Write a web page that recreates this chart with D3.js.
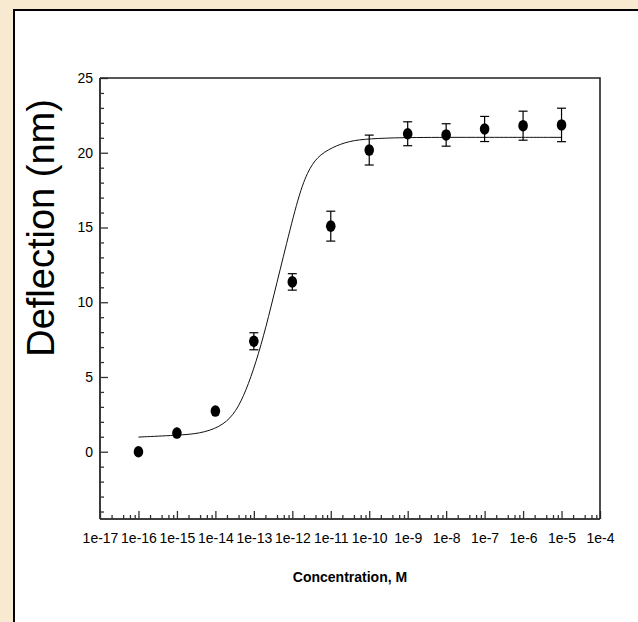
<!DOCTYPE html>
<html>
<head>
<meta charset="utf-8">
<script src="https://cdn.jsdelivr.net/npm/d3@7"></script>
<style>
  body { margin: 0; background: #f8ead1; }
  svg { display: block; }
</style>
</head>
<body>
<svg id="chart" width="638" height="622"></svg>
<script>
// measured points (concentration in M, deflection in nm, +/- error)
var concentrations = [1e-16, 1e-15, 1e-14, 1e-13, 1e-12, 1e-11, 1e-10, 1e-9, 1e-8, 1e-7, 1e-6, 1e-5];
var deflection = [0.0, 1.25, 2.72, 7.39, 11.36, 15.09, 20.18, 21.27, 21.19, 21.59, 21.81, 21.86];
var deflectionErr = [0, 0.35, 0.3, 0.57, 0.55, 1.0, 1.0, 0.8, 0.75, 0.84, 0.97, 1.12];

// fitted curve (log10 of concentration, deflection)
var fitLogConc = [-16, -15, -14.4, -13.88, -13.53, -13.27, -13.01, -12.75, -12.49, -12.15, -11.8, -11.54, -11.28, -10.85, -10.41, -9.81, -8.94, -7, -5];
var fitDeflection = [0.98, 1.1, 1.21, 1.65, 2.43, 3.66, 5.45, 7.68, 10.36, 13.93, 17.5, 19.06, 19.9, 20.5, 20.85, 20.96, 21.03, 21.03, 21.03];

var xMajor = d3.range(-17, -3).map(function(e) { return Math.pow(10, e); });
var yMajor = [0, 5, 10, 15, 20, 25];

(function() {
    'use strict';
    var svg = d3.select('#chart'),
        left = 100, right = 600, top = 78, bottom = 519;

    // white panel with black frame
    svg.append('rect')
        .attr('x', 14).attr('y', 10)
        .attr('width', 700).attr('height', 700)
        .attr('fill', '#fff').attr('stroke', '#000').attr('stroke-width', 2);

    var x = d3.scaleLog().domain([1e-17, 1e-4]).range([left, right]),
        y = d3.scaleLinear().domain([-4.5, 25]).range([bottom, top]);

    // minor ticks at 2,4,6,8 of each decade
    var xMinor = [];
    xMajor.slice(0, -1).forEach(function(d) {
        [2, 4, 6, 8].forEach(function(m) { xMinor.push(d * m); });
    });
    var yMinor = d3.range(-4, 25).filter(function(d) { return d % 5 !== 0; });

    var font = 'Liberation Sans, Arial, sans-serif';

    // x axis
    var xAxis = svg.append('g').attr('transform', 'translate(0,' + bottom + ')');
    xAxis.call(d3.axisBottom(x).tickValues(xMinor).tickSize(-4).tickFormat(''));
    xAxis.append('g').call(d3.axisBottom(x).tickValues(xMajor).tickSize(-8)
        .tickFormat(function(d) { return '1e' + Math.round(Math.log10(d)); }));
    xAxis.selectAll('.domain').attr('d', 'M' + left + ',0H' + right);
    xAxis.selectAll('text').attr('y', 24).attr('dy', 0)
        .attr('font-family', font).attr('font-size', 14).attr('fill', '#000');

    // y axis
    var yAxis = svg.append('g').attr('transform', 'translate(' + left + ',0)');
    yAxis.call(d3.axisLeft(y).tickValues(yMinor).tickSize(-4).tickFormat(''));
    yAxis.append('g').call(d3.axisLeft(y).tickValues(yMajor).tickSize(-8));
    yAxis.selectAll('.domain').attr('d', 'M0,' + bottom + 'V' + top);
    yAxis.selectAll('text').attr('x', -7)
        .attr('font-family', font).attr('font-size', 14).attr('fill', '#000');

    svg.selectAll('.domain, .tick line').attr('stroke', '#333').attr('stroke-width', 1.3);
    svg.selectAll('.domain').attr('stroke-width', 1.6);

    // top and right frame of the plot
    svg.append('path')
        .attr('d', 'M' + left + ',' + top + 'H' + right + 'V' + bottom)
        .attr('fill', 'none').attr('stroke', '#222').attr('stroke-width', 1.6);

    // fitted curve
    var line = d3.line()
        .x(function(d) { return x(Math.pow(10, d[0])); })
        .y(function(d) { return y(d[1]); })
        .curve(d3.curveBasis);
    svg.append('path')
        .datum(fitLogConc.map(function(d, i) { return [d, fitDeflection[i]]; }))
        .attr('d', line)
        .attr('fill', 'none').attr('stroke', '#111').attr('stroke-width', 1);

    var pts = concentrations.map(function(c, i) {
        return {c: c, v: deflection[i], e: deflectionErr[i]};
    });

    // error bars
    var bars = svg.append('g').selectAll('g').data(pts).enter().append('g')
        .attr('stroke', '#000').attr('stroke-width', 1.2);
    bars.append('line')
        .attr('x1', function(d) { return x(d.c); }).attr('x2', function(d) { return x(d.c); })
        .attr('y1', function(d) { return y(d.v - d.e); }).attr('y2', function(d) { return y(d.v + d.e); });
    [-1, 1].forEach(function(s) {
        bars.append('line')
            .attr('x1', function(d) { return x(d.c) - 4.5; }).attr('x2', function(d) { return x(d.c) + 4.5; })
            .attr('y1', function(d) { return y(d.v + s * d.e); }).attr('y2', function(d) { return y(d.v + s * d.e); })
            .style('display', function(d) { return d.e > 0.4 ? null : 'none'; });
    });

    // markers
    svg.append('g').selectAll('ellipse').data(pts).enter().append('ellipse')
        .attr('cx', function(d) { return x(d.c); })
        .attr('cy', function(d) { return y(d.v); })
        .attr('rx', 4.8).attr('ry', 5.8)
        .attr('fill', '#000');

    // axis titles
    svg.append('text')
        .attr('transform', 'translate(54,' + 228 + ') rotate(-90)')
        .attr('text-anchor', 'middle')
        .attr('font-family', font).attr('font-size', 38)
        .text('Deflection (nm)');
    svg.append('text')
        .attr('x', (left + right) / 2).attr('y', 582)
        .attr('text-anchor', 'middle')
        .attr('font-family', font).attr('font-size', 14).attr('font-weight', 'bold')
        .text('Concentration, M');
}());
</script>
</body>
</html>
